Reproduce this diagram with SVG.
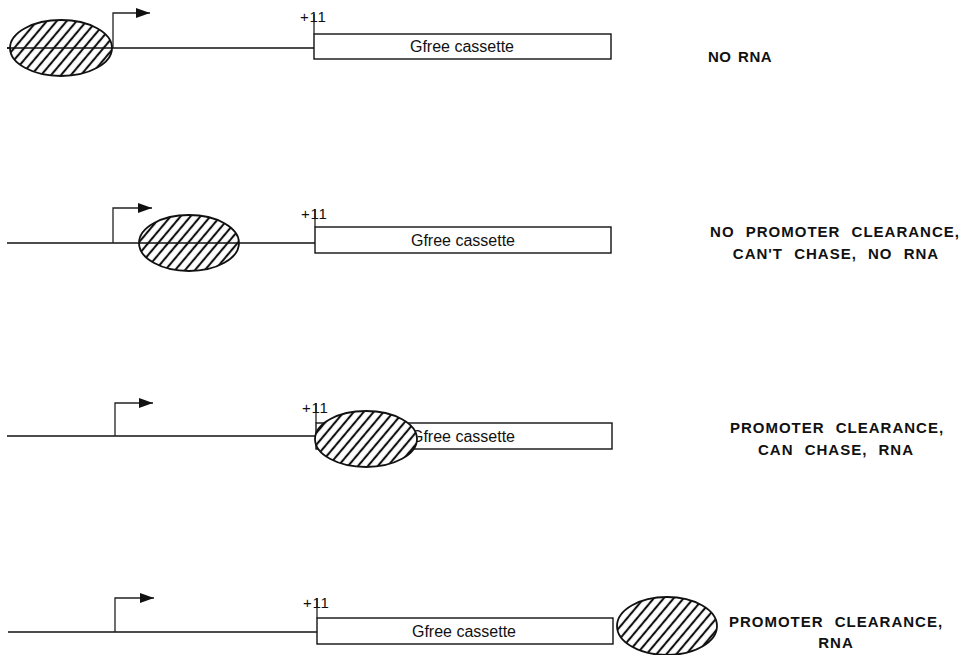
<svg xmlns="http://www.w3.org/2000/svg" width="963" height="655" viewBox="0 0 963 655">
<style>
.dna{stroke:#111;stroke-width:1.3;fill:none}
.box{fill:#fff;stroke:#111;stroke-width:1.4}
.prom{stroke:#222;stroke-width:1.3;fill:none}
.pol{fill:url(#hatch);stroke:#111;stroke-width:1.8}
.pos{font-family:"Liberation Sans",Arial,sans-serif;font-size:15px;fill:#111;letter-spacing:0.8px}
.cas{font-family:"Liberation Sans",Arial,sans-serif;font-size:16px;fill:#111;text-anchor:middle}
.lab{font-family:"Liberation Sans",Arial,sans-serif;font-size:15px;font-weight:bold;fill:#111;text-anchor:middle;letter-spacing:1px;word-spacing:6px}
</style>
<defs>
<pattern id="hatch" patternUnits="userSpaceOnUse" width="7.6" height="7.6" patternTransform="rotate(40)">
<rect width="7.6" height="7.6" fill="#fff"/>
<line x1="3.8" y1="-1" x2="3.8" y2="8.6" stroke="#111" stroke-width="2.1"/>
</pattern>
<marker id="ah" markerWidth="14" markerHeight="10" refX="14" refY="5" orient="auto" markerUnits="userSpaceOnUse">
<path d="M0,0 L14,5 L0,10 Z" fill="#111"/>
</marker>
</defs>

<g id="connectors">
<line class="dna" x1="7" y1="48" x2="314" y2="48"/>
<line class="dna" x1="7" y1="243" x2="315" y2="243"/>
<line class="dna" x1="7" y1="436" x2="316" y2="436"/>
<line class="dna" x1="8" y1="632" x2="317" y2="632"/>
<path class="prom" d="M113,48 V13 H150" marker-end="url(#ah)"/>
<path class="prom" d="M113,243 V208 H152" marker-end="url(#ah)"/>
<path class="prom" d="M115,436 V403 H153" marker-end="url(#ah)"/>
<path class="prom" d="M115,632 V598 H154" marker-end="url(#ah)"/>
</g>

<g id="row1">
<g id="cassette1">
<rect class="box" x="314" y="34" width="297" height="25"/>
<line class="prom" x1="314" y1="34" x2="314" y2="14"/>
<text class="pos" x="300" y="22">+11</text>
<text class="cas" x="462" y="52">Gfree cassette</text>
</g>
<g id="pol1">
<ellipse class="pol" cx="61" cy="48" rx="51" ry="28"/>
<line class="dna" x1="7" y1="48" x2="113" y2="48"/>
</g>
<text id="label1" class="lab" x="740" y="62" style="letter-spacing:0.5px;word-spacing:2px">NO RNA</text>
</g>

<g id="row2">
<g id="cassette2">
<rect class="box" x="315" y="227" width="296" height="26"/>
<line class="prom" x1="315" y1="227" x2="315" y2="209"/>
<text class="pos" x="301" y="219">+11</text>
<text class="cas" x="463" y="246">Gfree cassette</text>
</g>
<g id="pol2">
<ellipse class="pol" cx="189" cy="243" rx="50" ry="28"/>
<line class="dna" x1="139" y1="243" x2="239" y2="243"/>
</g>
<g id="label2">
<text class="lab" x="835" y="237">NO PROMOTER CLEARANCE,</text>
<text class="lab" x="836" y="259">CAN'T CHASE, NO RNA</text>
</g>
</g>

<g id="row3">
<g id="cassette3">
<rect class="box" x="316" y="423" width="296" height="26"/>
<line class="prom" x1="316" y1="423" x2="316" y2="403"/>
<text class="pos" x="302" y="413">+11</text>
<text class="cas" x="463" y="442">Gfree cassette</text>
</g>
<g id="pol3">
<ellipse class="pol" cx="366" cy="439" rx="51" ry="28"/>
</g>
<g id="label3">
<text class="lab" x="837" y="433">PROMOTER CLEARANCE,</text>
<text class="lab" x="836" y="455">CAN CHASE, RNA</text>
</g>
</g>

<g id="row4">
<g id="cassette4">
<rect class="box" x="317" y="618" width="296" height="26"/>
<line class="prom" x1="317" y1="618" x2="317" y2="598"/>
<text class="pos" x="303" y="608">+11</text>
<text class="cas" x="464" y="637">Gfree cassette</text>
</g>
<g id="pol4">
<ellipse class="pol" cx="667" cy="626" rx="50" ry="29"/>
</g>
<g id="label4">
<text class="lab" x="836" y="627">PROMOTER CLEARANCE,</text>
<text class="lab" x="836" y="648">RNA</text>
</g>
</g>
</svg>
